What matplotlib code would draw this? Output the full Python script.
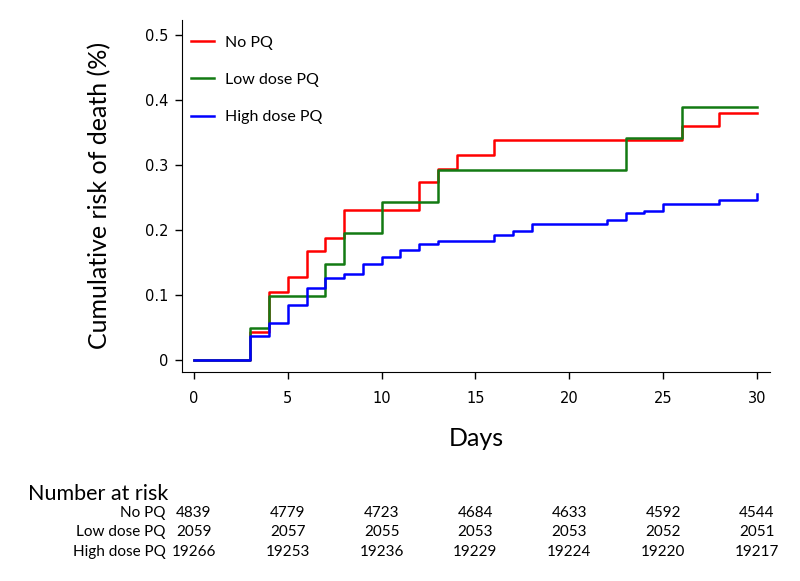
import numpy as np
import matplotlib
matplotlib.use("Agg")
import matplotlib.pyplot as plt

# cumulative risk curves (step functions, value holds from given day)
no_pq_days = [0, 3, 4, 5, 6, 7, 8, 12, 13, 14, 16, 26, 28, 30]
no_pq_risk = [0, 0.043, 0.105, 0.128, 0.168, 0.188, 0.231, 0.274, 0.294, 0.315, 0.338, 0.360, 0.380, 0.380]

low_pq_days = [0, 3, 4, 7, 8, 10, 13, 23, 26, 30]
low_pq_risk = [0, 0.049, 0.099, 0.148, 0.195, 0.243, 0.292, 0.342, 0.390, 0.390]

high_pq_days = [0, 3, 4, 5, 6, 7, 8, 9, 10, 11, 12, 13, 16, 17, 18, 22, 23, 24, 25, 28, 30]
high_pq_risk = [0, 0.037, 0.058, 0.085, 0.111, 0.126, 0.132, 0.148, 0.158, 0.169, 0.179, 0.183,
                0.193, 0.199, 0.209, 0.215, 0.226, 0.230, 0.240, 0.246, 0.255]

group_names = ["No PQ", "Low dose PQ", "High dose PQ"]
group_colors = ["#ff0000", "#137a13", "#0000ff"]

# number at risk table
risk_days = [0, 5, 10, 15, 20, 25, 30]
at_risk_no = [4839, 4779, 4723, 4684, 4633, 4592, 4544]
at_risk_low = [2059, 2057, 2055, 2053, 2053, 2052, 2051]
at_risk_high = [19266, 19253, 19236, 19229, 19224, 19220, 19217]

W, H = 800, 581
fig = plt.figure(figsize=(8, 5.81), dpi=100)
ax = fig.add_axes([182 / W, 1 - 372 / H, 588 / W, 352 / H])

curves = [(no_pq_days, no_pq_risk), (low_pq_days, low_pq_risk), (high_pq_days, high_pq_risk)]
for (d, r), name, col in zip(curves, group_names, group_colors):
    ax.step(d, r, where="post", color=col, lw=1.8, label=name)

ax.set_xlim(-0.64, 30.7)
ax.set_ylim(-0.018, 0.523)
ax.set_xticks([0, 5, 10, 15, 20, 25, 30])
ax.set_yticks([0, 0.1, 0.2, 0.3, 0.4, 0.5])
ax.set_yticklabels(["0", "0.1", "0.2", "0.3", "0.4", "0.5"])
ax.spines["right"].set_visible(False)
ax.spines["top"].set_visible(False)
ax.tick_params(length=5, width=1, labelsize=10.5, pad=5)
ax.tick_params(axis="x", pad=9)

leg = ax.legend(loc="upper left", bbox_to_anchor=(-0.009, 0.997), frameon=False,
                handlelength=1.45, handletextpad=0.65, labelspacing=1.45,
                prop={"family": "Lato", "size": 11.5})

fig.text(100 / W, 1 - 195 / H, "Cumulative risk of death (%)", rotation=90,
         ha="center", va="center", family="Lato", fontsize=18)
fig.text(476 / W, 1 - 438 / H, "Days", ha="center", va="center", family="Lato", fontsize=18)

# number at risk
fig.text(28 / W, 1 - 494 / H, "Number at risk", ha="left", va="center", family="Lato", fontsize=15.5)
row_y = [513, 532, 552]
for name, vals, yy in zip(group_names, [at_risk_no, at_risk_low, at_risk_high], row_y):
    fig.text(166 / W, 1 - yy / H, name, ha="right", va="center", family="Lato", fontsize=11)
    for d, v in zip(risk_days, vals):
        xf = ax.transData.transform((d, 0))[0] / fig.bbox.width
        fig.text(xf, 1 - yy / H, str(v), ha="center", va="center", family="Lato", fontsize=11)

fig.savefig("out.png", dpi=100)
